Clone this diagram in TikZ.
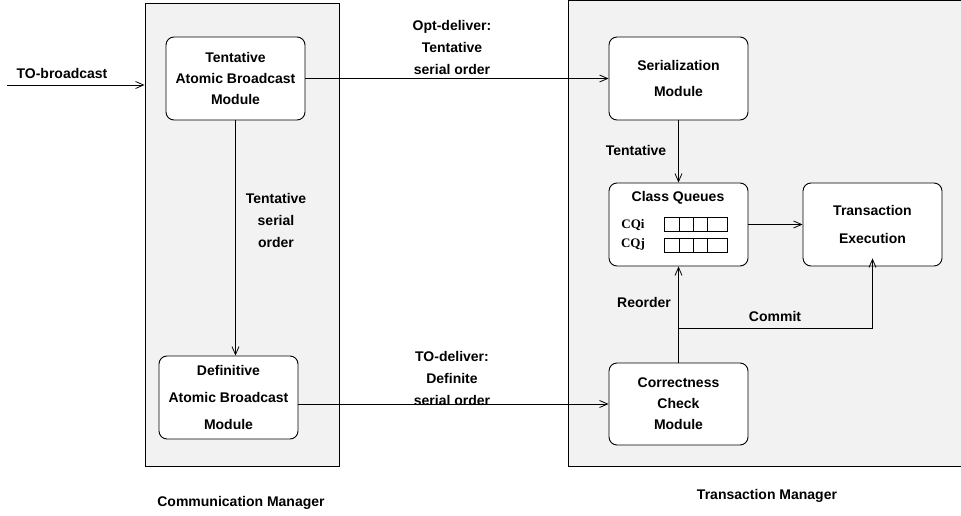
\documentclass[tikz,border=0pt]{standalone}
\usepackage{fontspec}
\setmainfont{Liberation Sans}
\newfontfamily\cqfont{Liberation Serif}
\usetikzlibrary{arrows.meta}

\definecolor{mgrfill}{RGB}{242,242,242}

\tikzset{
  mgr/.style={draw,fill=mgrfill,line width=0.9pt},
  module/.style={draw,fill=white,rounded corners=8pt,line width=0.9pt,
    minimum width=139pt,minimum height=83pt,align=center,
    font=\bfseries\fontsize{14}{21}\selectfont},
  lbl/.style={align=center,font=\bfseries\fontsize{14}{22}\selectfont},
  flow/.style={line width=0.8pt,-{Straight Barb[length=8pt,width=7pt]}},
}

\begin{document}
\begin{tikzpicture}[x=1pt,y=-1pt]
    \useasboundingbox (0,0) rectangle (961,516);

    % the two managers
    \node (cm) at (242,234.5) [mgr,minimum width=194pt,minimum height=463pt] {};
    \draw [mgr] (568,0.5) rectangle (975,466);
    \node (cmtext) at (241,503) [lbl] {Communication Manager};
    \node (tmtext) at (767,496) [lbl] {Transaction Manager};

    % modules
    \node (tabm) at (235.5,78.5) [module] {Tentative\\Atomic Broadcast\\Module};
    \node (dabm) at (228.5,397.5) [module,font=\bfseries\fontsize{14}{27}\selectfont] {Definitive\\Atomic Broadcast\\Module};
    \node (ser) at (678.5,78.5) [module,font=\bfseries\fontsize{14}{26}\selectfont] {Serialization\\Module};
    \node (cq) at (678.5,224.5) [module] {};
    \node (texec) at (872.5,224.5) [module,font=\bfseries\fontsize{14}{28}\selectfont] {Transaction\\Execution};
    \node (cc) at (678.5,404) [module,minimum height=82pt] {Correctness\\Check\\Module};

    % class queues
    \node (cqtitle) at (678,198) [lbl] {Class Queues};
    \node (cqi) at (633,225) [font=\cqfont\bfseries\fontsize{13}{13}\selectfont] {CQi};
    \node (cqj) at (633,244) [font=\cqfont\bfseries\fontsize{13}{13}\selectfont] {CQj};
    \foreach \y in {217,238} {
      \draw [line width=0.8pt] (664,\y) rectangle (727,\y+14);
      \foreach \x in {679,693,707}
        \draw [line width=0.8pt] (\x,\y) -- (\x,\y+14);
    }

    % connectors
    \coordinate (in) at (7,85);
    \draw [flow] (in) -- (in -| cm.west);
    \node (tob) at (62,73) [lbl] {TO-broadcast};

    \draw [flow] (tabm.east) -- (ser.west);
    \node (optlbl) at (452,47) [lbl] {Opt-deliver:\\Tentative\\serial order};

    \draw [flow] (tabm.south) -- (tabm.south |- dabm.north);
    \node (tentlbl) at (276,220) [lbl] {Tentative\\serial\\order};

    \draw [flow] (dabm.east |- cc.west) -- (cc.west);
    \node (tolbl) at (452,378) [lbl] {TO-deliver:\\Definite\\serial order};

    \draw [flow] (ser.south) -- (cq.north);
    \node (tent2) at (636,150) [lbl] {Tentative};

    \draw [flow] (cq.east) -- (texec.west);

    \draw [flow] (cc.north) -- (cq.south);
    \node (reord) at (644,302) [lbl] {Reorder};

    \coordinate (split) at (678.5,328);
    \draw [flow] (split) -| ([yshift=8pt]texec.south);
    \node (commit) at (775,316) [lbl] {Commit};
\end{tikzpicture}
\end{document}
